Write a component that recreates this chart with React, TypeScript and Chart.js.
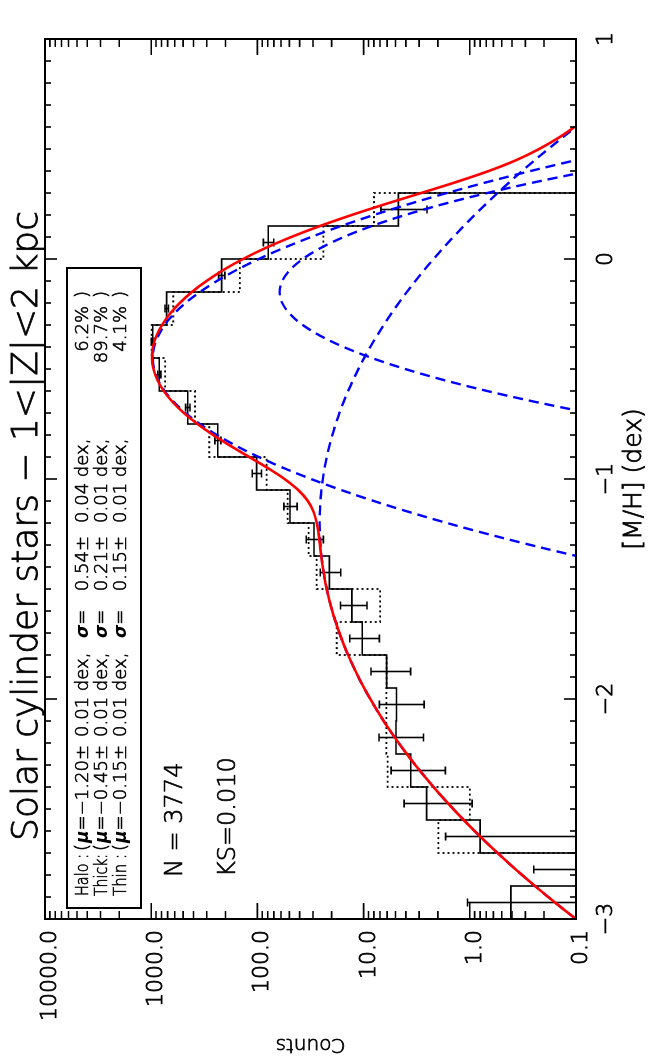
import React, { useEffect, useRef } from "react";
import { Chart, registerables } from "chart.js";

Chart.register(...registerables);

// ---------- data ----------
const binCenters = [-2.925, -2.775, -2.625, -2.475, -2.325, -2.175, -2.025, -1.875, -1.725, -1.575, -1.425, -1.275, -1.125, -0.975, -0.825, -0.675, -0.525, -0.375, -0.225, -0.075, 0.075, 0.225, 0.375];
const binWidth = 0.15;
const observedCounts = [0.41, 0.04, 0.8, 2.55, 3.6, 4.95, 4.9, 6.07, 10.3, 12.9, 21.0, 29.3, 49.3, 101.7, 236, 453, 839, 968, 715, 217, 79, 4.7, 0];
const observedErrors = [0.64, 0.21, 0.89, 1.6, 1.9, 2.22, 2.21, 2.46, 3.2, 3.6, 4.6, 5.4, 7.0, 10.1, 15.4, 21.3, 29, 31.1, 26.7, 14.7, 8.9, 2.17, 0];
const comparisonCounts = [0, 0, 1.98, 1.0, 5.93, 6.1, 6.1, 6.07, 17.9, 7.0, 27.7, 33, 51.9, 81.8, 284, 387, 741, 990, 620, 146, 23.9, 7.98, 0];

const curveX = [-3.0, -2.95, -2.9, -2.85, -2.8, -2.75, -2.7, -2.65, -2.6, -2.55, -2.5, -2.45, -2.4, -2.35, -2.3, -2.25, -2.2, -2.15, -2.1, -2.05, -2.0, -1.95, -1.9, -1.85, -1.8, -1.75, -1.7, -1.65, -1.6, -1.55, -1.5, -1.45, -1.4, -1.35, -1.3, -1.25, -1.2, -1.15, -1.1, -1.05, -1.0, -0.95, -0.9, -0.85, -0.8, -0.75, -0.7, -0.65, -0.6, -0.55, -0.5, -0.45, -0.4, -0.35, -0.3, -0.25, -0.2, -0.15, -0.1, -0.05, 0.0, 0.05, 0.1, 0.15, 0.2, 0.25, 0.3, 0.35, 0.4, 0.45, 0.5, 0.55, 0.6];
const totalFit = [0.1002, 0.1358, 0.1826, 0.2434, 0.3217, 0.4214, 0.5473, 0.7048, 0.8998, 1.139, 1.43, 1.779, 2.195, 2.685, 3.256, 3.914, 4.667, 5.517, 6.466, 7.512, 8.654, 9.884, 11.19, 12.56, 13.99, 15.44, 16.89, 18.32, 19.71, 21.02, 22.22, 23.3, 24.25, 25.05, 25.76, 26.5, 27.57, 29.55, 33.5, 41.23, 55.45, 79.97, 119.3, 178.2, 260.2, 366.0, 492.0, 628.7, 762.2, 875.6, 953.0, 982.9, 961.7, 894.2, 791.4, 667.9, 538.1, 413.3, 302.1, 209.3, 136.7, 83.84, 48.06, 25.77, 12.97, 6.198, 2.873, 1.341, 0.663, 0.363, 0.222, 0.147, 0.103];
const haloFit = [0.1002, 0.1358, 0.1826, 0.2434, 0.3217, 0.4214, 0.5473, 0.7048, 0.8998, 1.139, 1.43, 1.779, 2.195, 2.685, 3.256, 3.914, 4.667, 5.517, 6.466, 7.512, 8.654, 9.884, 11.19, 12.56, 13.99, 15.44, 16.89, 18.32, 19.71, 21.02, 22.22, 23.29, 24.21, 24.95, 25.49, 25.82, 25.93, 25.82, 25.49, 24.95, 24.21, 23.29, 22.22, 21.02, 19.71, 18.32, 16.89, 15.44, 13.99, 12.56, 11.19, 9.884, 8.654, 7.512, 6.466, 5.517, 4.667, 3.914, 3.256, 2.685, 2.195, 1.779, 1.43, 1.139, 0.8998, 0.7048, 0.5473, 0.4214, 0.3217, 0.2434, 0.1826, 0.1358, 0.1002];
const thickX = [-1.45, -1.4, -1.35, -1.3, -1.25, -1.2, -1.15, -1.1, -1.05, -1.0, -0.95, -0.9, -0.85, -0.8, -0.75, -0.7, -0.65, -0.6, -0.55, -0.5, -0.45, -0.4, -0.35, -0.3, -0.25, -0.2, -0.15, -0.1, -0.05, 0.0, 0.05, 0.1, 0.15, 0.2, 0.25, 0.3, 0.35, 0.4, 0.45, 0.5];
const thickFit = [0.0115, 0.0347, 0.099, 0.267, 0.6809, 1.64, 3.73, 8.014, 16.28, 31.24, 56.68, 97.11, 157.2, 240.5, 347.7, 475.0, 613.0, 747.5, 861.3, 937.7, 964.7, 937.7, 861.3, 747.5, 613.0, 475.0, 347.7, 240.5, 157.2, 97.11, 56.68, 31.24, 16.28, 8.014, 3.73, 1.64, 0.6809, 0.267, 0.099, 0.0347];
const thinX = [-0.75, -0.7, -0.65, -0.6, -0.55, -0.5, -0.45, -0.4, -0.35, -0.3, -0.25, -0.2, -0.15, -0.1, -0.05, 0.0, 0.05, 0.1, 0.15, 0.2, 0.25, 0.3, 0.35, 0.4, 0.45];
const thinFit = [0.0207, 0.0743, 0.2387, 0.6858, 1.763, 4.057, 8.354, 15.39, 25.38, 37.44, 49.43, 58.39, 61.73, 58.39, 49.43, 37.44, 25.38, 15.39, 8.354, 4.057, 1.763, 0.6858, 0.2387, 0.0743, 0.0207];

const mhTicks = [-3, -2, -1, 0, 1];
const mhTickLabels = ["\u22123", "\u22122", "\u22121", "0", "1"];
const countTicks = [0.1, 1, 10, 100, 1000, 10000];
const countTickLabels = ["0.1", "1.0", "10.0", "100.0", "1000.0", "10000.0"];

const titleText = "Solar cylinder stars \u2212 1<|Z|<2 kpc";
const xTitle = "[M/H] (dex)";
const yTitle = "Counts";
const legendNames = ["Halo :", "Thick:", "Thin :"];
const legendMu = ["\u22121.20\u00b1", "\u22120.45\u00b1", "\u22120.15\u00b1"];
const legendMuErr = ["0.01 dex,", "0.01 dex,", "0.01 dex,"];
const legendSigma = ["0.54\u00b1", "0.21\u00b1", "0.15\u00b1"];
const legendSigmaErr = ["0.04 dex,", "0.01 dex,", "0.01 dex,"];
const legendPct = ["6.2%", "89.7%", "4.1%"];
const statLines = ["N = 3774", "KS=0.010"];

// ---------- layout ----------
const W = 1063;
const H = 664;
const FONT = '"DejaVu Sans", "Liberation Sans", sans-serif';
const WT = 200;

const pts = (xs: number[], ys: number[]) => xs.map((x, i) => ({ x, y: ys[i] }));
const floorLog = (v: number) => (v > 0 ? v : 0.001);
const histPts = (vals: number[]) => {
  const out = vals.map((v, i) => ({ x: binCenters[i] - binWidth / 2, y: floorLog(v) }));
  const last = vals.length - 1;
  out.push({ x: binCenters[last] + binWidth / 2, y: floorLog(vals[last]) });
  return out;
};

// filled text with a thin outline to mimic the vector font's stroke weight
const txt = (ctx: CanvasRenderingContext2D, s: string, x: number, y: number, sw = 0.7) => {
  ctx.fillText(s, x, y);
  if (sw > 0) {
    ctx.lineWidth = sw;
    ctx.strokeText(s, x, y);
  }
};

const fitText = (ctx: CanvasRenderingContext2D, s: string, x: number, y: number, maxW: number, sw = 0.6) => {
  const w = ctx.measureText(s).width;
  const k = w > maxW ? maxW / w : 1;
  ctx.save();
  ctx.translate(x, y);
  ctx.scale(k, 1);
  txt(ctx, s, 0, 0, sw);
  ctx.restore();
};

const decorPlugin = {
  id: "decor",
  beforeDatasetsDraw(chart: any) {
    const { ctx, chartArea: a, scales } = chart;
    const xs = scales.x;
    const ys = scales.y;
    ctx.save();
    ctx.beginPath();
    ctx.rect(a.left, a.top, a.right - a.left, a.bottom - a.top);
    ctx.clip();
    ctx.strokeStyle = "#000";
    ctx.lineWidth = 1.6;
    binCenters.forEach((c, i) => {
      const v = observedCounts[i];
      const e = observedErrors[i];
      if (!(v > 0) || !(e > 0)) return;
      const px = xs.getPixelForValue(c);
      const hi = ys.getPixelForValue(v + e);
      const lo = ys.getPixelForValue(Math.max(v - e, 0.001));
      ctx.beginPath();
      ctx.moveTo(px, lo);
      ctx.lineTo(px, hi);
      ctx.moveTo(px - 4, hi);
      ctx.lineTo(px + 4, hi);
      ctx.moveTo(px - 4, lo);
      ctx.lineTo(px + 4, lo);
      ctx.stroke();
    });
    ctx.restore();
  },
  afterDraw(chart: any) {
    const { ctx, chartArea: a, scales } = chart;
    const xs = scales.x;
    const ys = scales.y;
    ctx.save();
    ctx.strokeStyle = "#000";
    ctx.fillStyle = "#000";
    // frame
    ctx.lineWidth = 2;
    ctx.strokeRect(a.left, a.top, a.right - a.left, a.bottom - a.top);
    // M/H ticks
    ctx.lineWidth = 1.6;
    ctx.beginPath();
    for (let k = -30; k <= 10; k++) {
      const px = xs.getPixelForValue(k / 10);
      const len = k % 10 === 0 ? 12 : 6;
      ctx.moveTo(px, a.bottom);
      ctx.lineTo(px, a.bottom - len);
      ctx.moveTo(px, a.top);
      ctx.lineTo(px, a.top + len);
    }
    // count ticks
    for (let d = -1; d <= 4; d++) {
      for (let m = 1; m <= 9; m++) {
        const v = m * Math.pow(10, d);
        if (v > 10000.0001) break;
        const py = ys.getPixelForValue(v);
        const len = m === 1 ? 16 : 8;
        ctx.moveTo(a.left, py);
        ctx.lineTo(a.left + len, py);
        ctx.moveTo(a.right, py);
        ctx.lineTo(a.right - len, py);
      }
    }
    ctx.stroke();

    // tick labels
    ctx.font = `${WT} 22px ${FONT}`;
    ctx.textAlign = "center";
    ctx.textBaseline = "alphabetic";
    mhTicks.forEach((t, i) => {
      txt(ctx, mhTickLabels[i], xs.getPixelForValue(t), 612, 0.8);
    });
    ctx.textAlign = "right";
    countTicks.forEach((t, i) => {
      txt(ctx, countTickLabels[i], 133, ys.getPixelForValue(t) + 11, 0.8);
    });

    // axis titles
    ctx.textAlign = "center";
    ctx.font = `${WT} 25px ${FONT}`;
    txt(ctx, xTitle, (a.left + a.right) / 2, 641, 0.8);
    ctx.save();
    ctx.font = `${WT} 20px ${FONT}`;
    ctx.translate(24, (a.top + a.bottom) / 2);
    ctx.rotate(-Math.PI / 2);
    txt(ctx, yTitle, 0, 0, 0.7);
    ctx.restore();

    // title
    ctx.font = `${WT} 36px ${FONT}`;
    txt(ctx, titleText, 537, 37, 0.8);

    // stats
    ctx.textAlign = "left";
    ctx.font = `${WT} 24px ${FONT}`;
    txt(ctx, statLines[0], 186, 182, 0.7);
    txt(ctx, statLines[1], 186, 235, 0.7);

    // legend box
    ctx.lineWidth = 2;
    ctx.strokeRect(155, 67, 640, 74);
    const normal = `${WT} 18px ${FONT}`;
    const greek = `italic bold 17px ${FONT}`;
    legendNames.forEach((name, r) => {
      const y = 88 + 19 * r;
      ctx.font = normal;
      ctx.textAlign = "left";
      fitText(ctx, name, 167, y, 42);
      let x = 212;
      txt(ctx, "(", x, y, 0.6);
      x += ctx.measureText("(").width + 1;
      ctx.font = greek;
      ctx.fillText("\u03bc", x, y);
      x += ctx.measureText("\u03bc").width;
      ctx.font = normal;
      txt(ctx, "=", x, y, 0.6);
      ctx.textAlign = "right";
      txt(ctx, legendMu[r], 318, y, 0.6);
      ctx.textAlign = "left";
      txt(ctx, legendMuErr[r], 326, y, 0.6);
      ctx.font = greek;
      ctx.fillText("\u03c3", 425, y);
      const sw = ctx.measureText("\u03c3").width;
      ctx.font = normal;
      txt(ctx, "=", 425 + sw, y, 0.6);
      ctx.textAlign = "right";
      txt(ctx, legendSigma[r], 527, y, 0.6);
      ctx.textAlign = "left";
      txt(ctx, legendSigmaErr[r], 540, y, 0.6);
      ctx.textAlign = "right";
      txt(ctx, legendPct[r], 757, y, 0.6);
      ctx.textAlign = "left";
      txt(ctx, ")", 765, y, 0.6);
    });
    ctx.restore();
  },
};

export default function App() {
  const ref = useRef<HTMLCanvasElement | null>(null);
  useEffect(() => {
    document.body.style.overflow = "hidden";
    document.documentElement.style.overflow = "hidden";
    const canvas = ref.current;
    if (!canvas) return;
    const lineBase = { pointRadius: 0, fill: false, cubicInterpolationMode: "monotone" as const };
    const chart = new Chart(canvas, {
      type: "line",
      data: {
        datasets: [
          { ...lineBase, label: "Total fit", data: pts(curveX, totalFit), borderColor: "#ff0000", borderWidth: 2.6, order: 0 },
          { ...lineBase, label: "Halo", data: pts(curveX, haloFit), borderColor: "#0000ff", borderWidth: 2.4, borderDash: [10, 6], order: 1 },
          { ...lineBase, label: "Thick", data: pts(thickX, thickFit), borderColor: "#0000ff", borderWidth: 2.4, borderDash: [10, 6], order: 1 },
          { ...lineBase, label: "Thin", data: pts(thinX, thinFit), borderColor: "#0000ff", borderWidth: 2.4, borderDash: [10, 6], order: 1 },
          { label: "Observed", data: histPts(observedCounts), stepped: "before", borderColor: "#000", borderWidth: 1.6, pointRadius: 0, fill: false, order: 2 },
          { label: "Comparison", data: histPts(comparisonCounts), stepped: "before", borderColor: "#000", borderWidth: 1.8, borderDash: [2, 3], pointRadius: 0, fill: false, order: 3 },
        ] as any,
      },
      options: {
        responsive: false,
        animation: false,
        devicePixelRatio: 1,
        events: [],
        layout: { padding: { left: 144, right: 39, top: 45, bottom: 88 } },
        scales: {
          x: { type: "linear", min: -3, max: 1, display: false },
          y: { type: "logarithmic", min: 0.1, max: 10000, display: false },
        },
        plugins: { legend: { display: false }, tooltip: { enabled: false } },
      },
      plugins: [decorPlugin],
    });
    return () => chart.destroy();
  }, []);

  return (
    <div
      style={{
        position: "fixed",
        left: 0,
        top: 0,
        width: W,
        height: H,
        background: "#fff",
        transformOrigin: "0 0",
        transform: `translate(0px, ${W}px) rotate(-90deg)`,
      }}
    >
      <canvas ref={ref} width={W} height={H} style={{ display: "block" }} />
    </div>
  );
}
